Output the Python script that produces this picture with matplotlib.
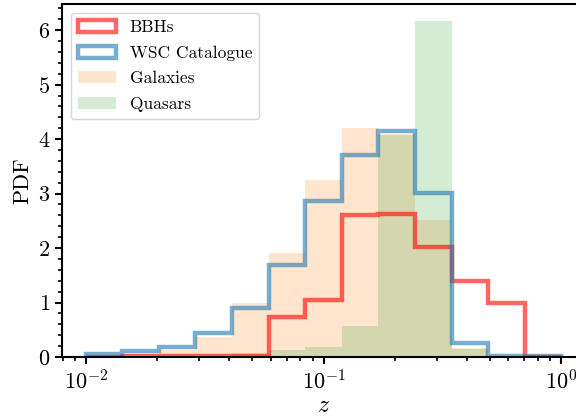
import numpy as np
import matplotlib
matplotlib.use("Agg")
import matplotlib.pyplot as plt
from matplotlib.ticker import AutoMinorLocator, LogLocator

plt.rcParams['font.family'] = ['serif']
plt.rcParams['font.serif'] = ['cmr10', 'DejaVu Serif']
plt.rcParams['mathtext.fontset'] = 'cm'
plt.rcParams['axes.formatter.use_mathtext'] = True
plt.rcParams['axes.unicode_minus'] = False

# log-spaced redshift bins, 0.01 .. 1
bin_edges = np.logspace(-2, 0, 14)

bbh_pdf = [0.0, 0.01, 0.01, 0.01, 0.01, 0.74, 1.05, 2.61, 2.62, 2.02, 1.40, 0.99, 0.005]
wsc_pdf = [0.06, 0.11, 0.19, 0.435, 0.895, 1.68, 2.855, 3.71, 4.14, 3.01, 0.25, 0.02, 0.01]
gal_pdf = [0.02, 0.05, 0.13, 0.37, 1.0, 1.9, 3.25, 4.2, 4.1, 2.52, 0.17, 0.0, 0.0]
qso_pdf = [0.0, 0.0, 0.0, 0.01, 0.07, 0.13, 0.19, 0.56, 4.08, 6.17, 0.14, 0.0, 0.0]

labels = ["BBHs", "WSC Catalogue", "Galaxies", "Quasars"]

centers = np.sqrt(bin_edges[:-1] * bin_edges[1:])

fig = plt.figure(figsize=(5.76, 4.19), dpi=100)
ax = fig.add_axes([62/576, (419-357)/419, (585-62)/576, (357-4)/419])

ax.hist(centers, bins=bin_edges, weights=bbh_pdf, histtype='step',
        color='red', alpha=0.6, lw=3.2, label=labels[0])
ax.hist(centers, bins=bin_edges, weights=wsc_pdf, histtype='step',
        color='tab:blue', alpha=0.6, lw=3.2, label=labels[1])
ax.hist(centers, bins=bin_edges, weights=gal_pdf, histtype='stepfilled',
        color='tab:orange', alpha=0.2, lw=0, label=labels[2])
ax.hist(centers, bins=bin_edges, weights=qso_pdf, histtype='stepfilled',
        color='tab:green', alpha=0.2, lw=0, label=labels[3])

ax.set_xscale('log')
ax.set_xlim(10**-2.1, 10**0.1)
ax.set_ylim(0, 6.48)
ax.yaxis.set_minor_locator(AutoMinorLocator(5))
ax.xaxis.set_major_locator(LogLocator(base=10, numticks=10))

for s in ax.spines.values():
    s.set_linewidth(1.5)
ax.tick_params(which='major', direction='out', length=5, width=1.5, labelsize=16)
ax.tick_params(which='minor', direction='out', length=3, width=1.2)

ax.set_xlabel('$z$', fontsize=17, labelpad=1)
ax.set_ylabel('PDF', fontsize=16)

ax.legend(loc='upper left', fontsize=12.5, frameon=True, handlelength=2.2,
          borderaxespad=0.5, labelspacing=0.6)

fig.savefig('out.png', dpi=100)
